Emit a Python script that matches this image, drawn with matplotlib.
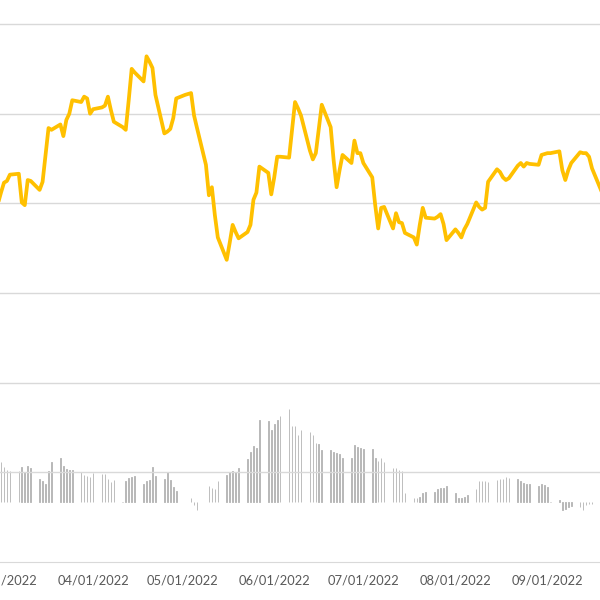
"""
Daily level (gold line) with a daily indicator drawn as thin grey columns
on a secondary axis, Excel-like styling.
"""
import numpy as np
import pandas as pd
import matplotlib

matplotlib.use("Agg")
import matplotlib.pyplot as plt
import matplotlib.dates as mdates

# --- data: one value per weekday, 2022-02-28 .. 2022-09-19 ---
line_feb = [40.0]
line_mar = [41.2, 42.3, 42.5, 43.2, 43.3, 40.1, 39.8, 42.6, 42.5, 41.5, 42.4, 45.4,
            48.4, 48.2, 48.8, 47.5, 49.3, 50.0, 51.5, 51.3, 51.9, 51.7, 50.0]
line_apr = [50.5, 50.7, 50.9, 51.9, 50.4, 49.1, 48.5, 48.2, 51.5, 55.0, 54.6, 53.6,
            56.4, 55.8, 55.1, 52.1, 47.8, 48.0, 48.3, 49.5, 51.7]
line_may = [52.1, 52.2, 52.3, 49.8, 48.4, 44.3, 40.9, 41.8, 38.7, 36.2, 33.7, 35.6,
            37.6, 36.8, 36.1, 36.8, 37.6, 40.4, 41.2, 44.1, 43.4, 41.0]
line_jun = [42.9, 45.2, 45.2, 45.1, 48.2, 51.3, 50.6, 49.8, 45.9, 44.9, 45.6, 48.3,
            51.0, 48.5, 44.8, 41.8, 43.7, 45.4, 44.5, 47.0, 45.6, 45.6]
line_jul = [44.5, 42.9, 39.8, 37.2, 39.5, 39.6, 37.2, 38.9, 37.9, 37.8, 36.7, 36.2,
            35.4, 37.6, 39.5, 38.4, 38.3, 38.5, 38.8, 37.7, 35.9]
line_aug = [37.1, 36.7, 36.2, 37.1, 37.7, 40.1, 39.6, 39.3, 39.5, 42.4, 43.8, 43.5,
            42.9, 42.6, 42.8, 44.2, 44.5, 44.1, 44.5, 44.4, 44.3, 45.4, 45.5]
line_sep = [45.6, 45.6, 45.8, 43.7, 42.6, 43.7, 44.5, 45.7, 45.6, 45.6, 45.2, 43.9,
            41.5]

bars_feb = [4.0]
bars_mar = [4.5, 3.9, 3.6, 3.5, 3.5, 3.9, 3.3, 4.0, 3.8, 2.6, 2.3, 2.0, 3.5, 4.5,
            4.9, 4.0, 3.7, 3.6, 3.6, 3.3, 3.0, 2.9, 2.8]
bars_apr = [3.2, 3.1, 3.1, 2.6, 2.2, 2.5, 0.0, 2.4, 2.7, 2.8, 2.9, 2.0, 2.3, 2.5,
            3.9, 2.9, 2.6, 3.3, 2.5, 1.7, 1.2]
bars_may = [0.0, 0.0, 0.5, -0.3, -0.9, 0.0, 1.8, 1.6, 1.5, 2.4, 3.0, 3.3, 3.5, 3.4,
            3.8, 4.8, 5.6, 6.2, 6.0, 9.1, 9.0, 8.0]
bars_jun = [8.7, 9.1, 9.6, 10.4, 8.5, 8.5, 7.5, 8.0, 7.8, 7.5, 6.6, 6.5, 5.8, 5.8,
            5.6, 5.5, 5.4, 4.9, 4.9, 6.4, 6.1, 6.0]
bars_jul = [5.9, 5.9, 4.9, 4.6, 4.9, 4.5, 3.8, 3.8, 3.6, 3.5, 1.0, 0.5, 0.5, 0.6,
            1.0, 1.1, 1.1, 1.5, 1.6, 1.6, 1.8]
bars_aug = [1.0, 0.4, 0.5, 0.6, 0.8, 1.5, 2.3, 2.3, 2.3, 2.2, 2.5, 2.6, 2.6, 2.8,
            2.7, 2.6, 2.3, 2.1, 2.0, 2.0, 1.8, 2.0, 1.9]
bars_sep = [1.7, 0.0, 0.2, -0.9, -0.8, -0.6, -0.4, -0.5, -0.9, -0.3, -0.2, -0.2,
            -0.3]

dates = pd.bdate_range("2022-02-28", "2022-09-19")
level = np.array(line_feb + line_mar + line_apr + line_may + line_jun + line_jul
                 + line_aug + line_sep)
indicator = np.array(bars_feb + bars_mar + bars_apr + bars_may + bars_jun
                     + bars_jul + bars_aug + bars_sep)

GOLD = "#FFC000"
GRID = "#D9D9D9"
BAR_GREY = "#B3B3B3"
TEXT_GREY = "#595959"


def style_axes(ax):
    """Excel-like look: no spines except a light baseline, no tick marks."""
    for side in ("top", "left", "right"):
        ax.spines[side].set_visible(False)
    ax.spines["bottom"].set_color(GRID)
    ax.tick_params(axis="both", length=0)


fig = plt.figure(figsize=(6, 6), dpi=100)
ax = fig.add_axes([0.0, 38 / 600, 1.0, 1 - 38 / 600])

# primary axis: level
ax.set_ylim(0, 62.68)
ax.set_yticks(np.arange(10, 61, 10))
ax.set_yticklabels([])
ax.grid(axis="y", color=GRID, linewidth=1)
ax.set_axisbelow(True)
style_axes(ax)

start = mdates.date2num(pd.Timestamp("2022-03-01"))
ax.set_xlim(start - 1 / 2.97, start + 599 / 2.97)
ax.xaxis.set_major_locator(mdates.MonthLocator())
ax.xaxis.set_major_formatter(mdates.DateFormatter("%m/%d/%Y"))
for label in ax.get_xticklabels():
    label.set_fontfamily(["Lato", "DejaVu Sans"])
    label.set_fontsize(9.3)
    label.set_color(TEXT_GREY)
ax.tick_params(axis="x", pad=9)

# secondary axis: indicator columns (edge keeps each one at least 1px wide)
ax2 = ax.twinx()
ax2.set_ylim(-6.69, 56.0)
ax2.bar(dates, indicator, width=0.2, color=BAR_GREY,
        edgecolor=BAR_GREY, linewidth=0.6)
ax2.set_yticks([])
style_axes(ax2)
ax2.spines["bottom"].set_visible(False)

# line drawn on top of the columns
ax.set_zorder(ax2.get_zorder() + 1)
ax.patch.set_visible(False)
ax.plot(dates, level, color=GOLD, linewidth=2.7, solid_joinstyle="round")

fig.savefig("out.png", dpi=100)
